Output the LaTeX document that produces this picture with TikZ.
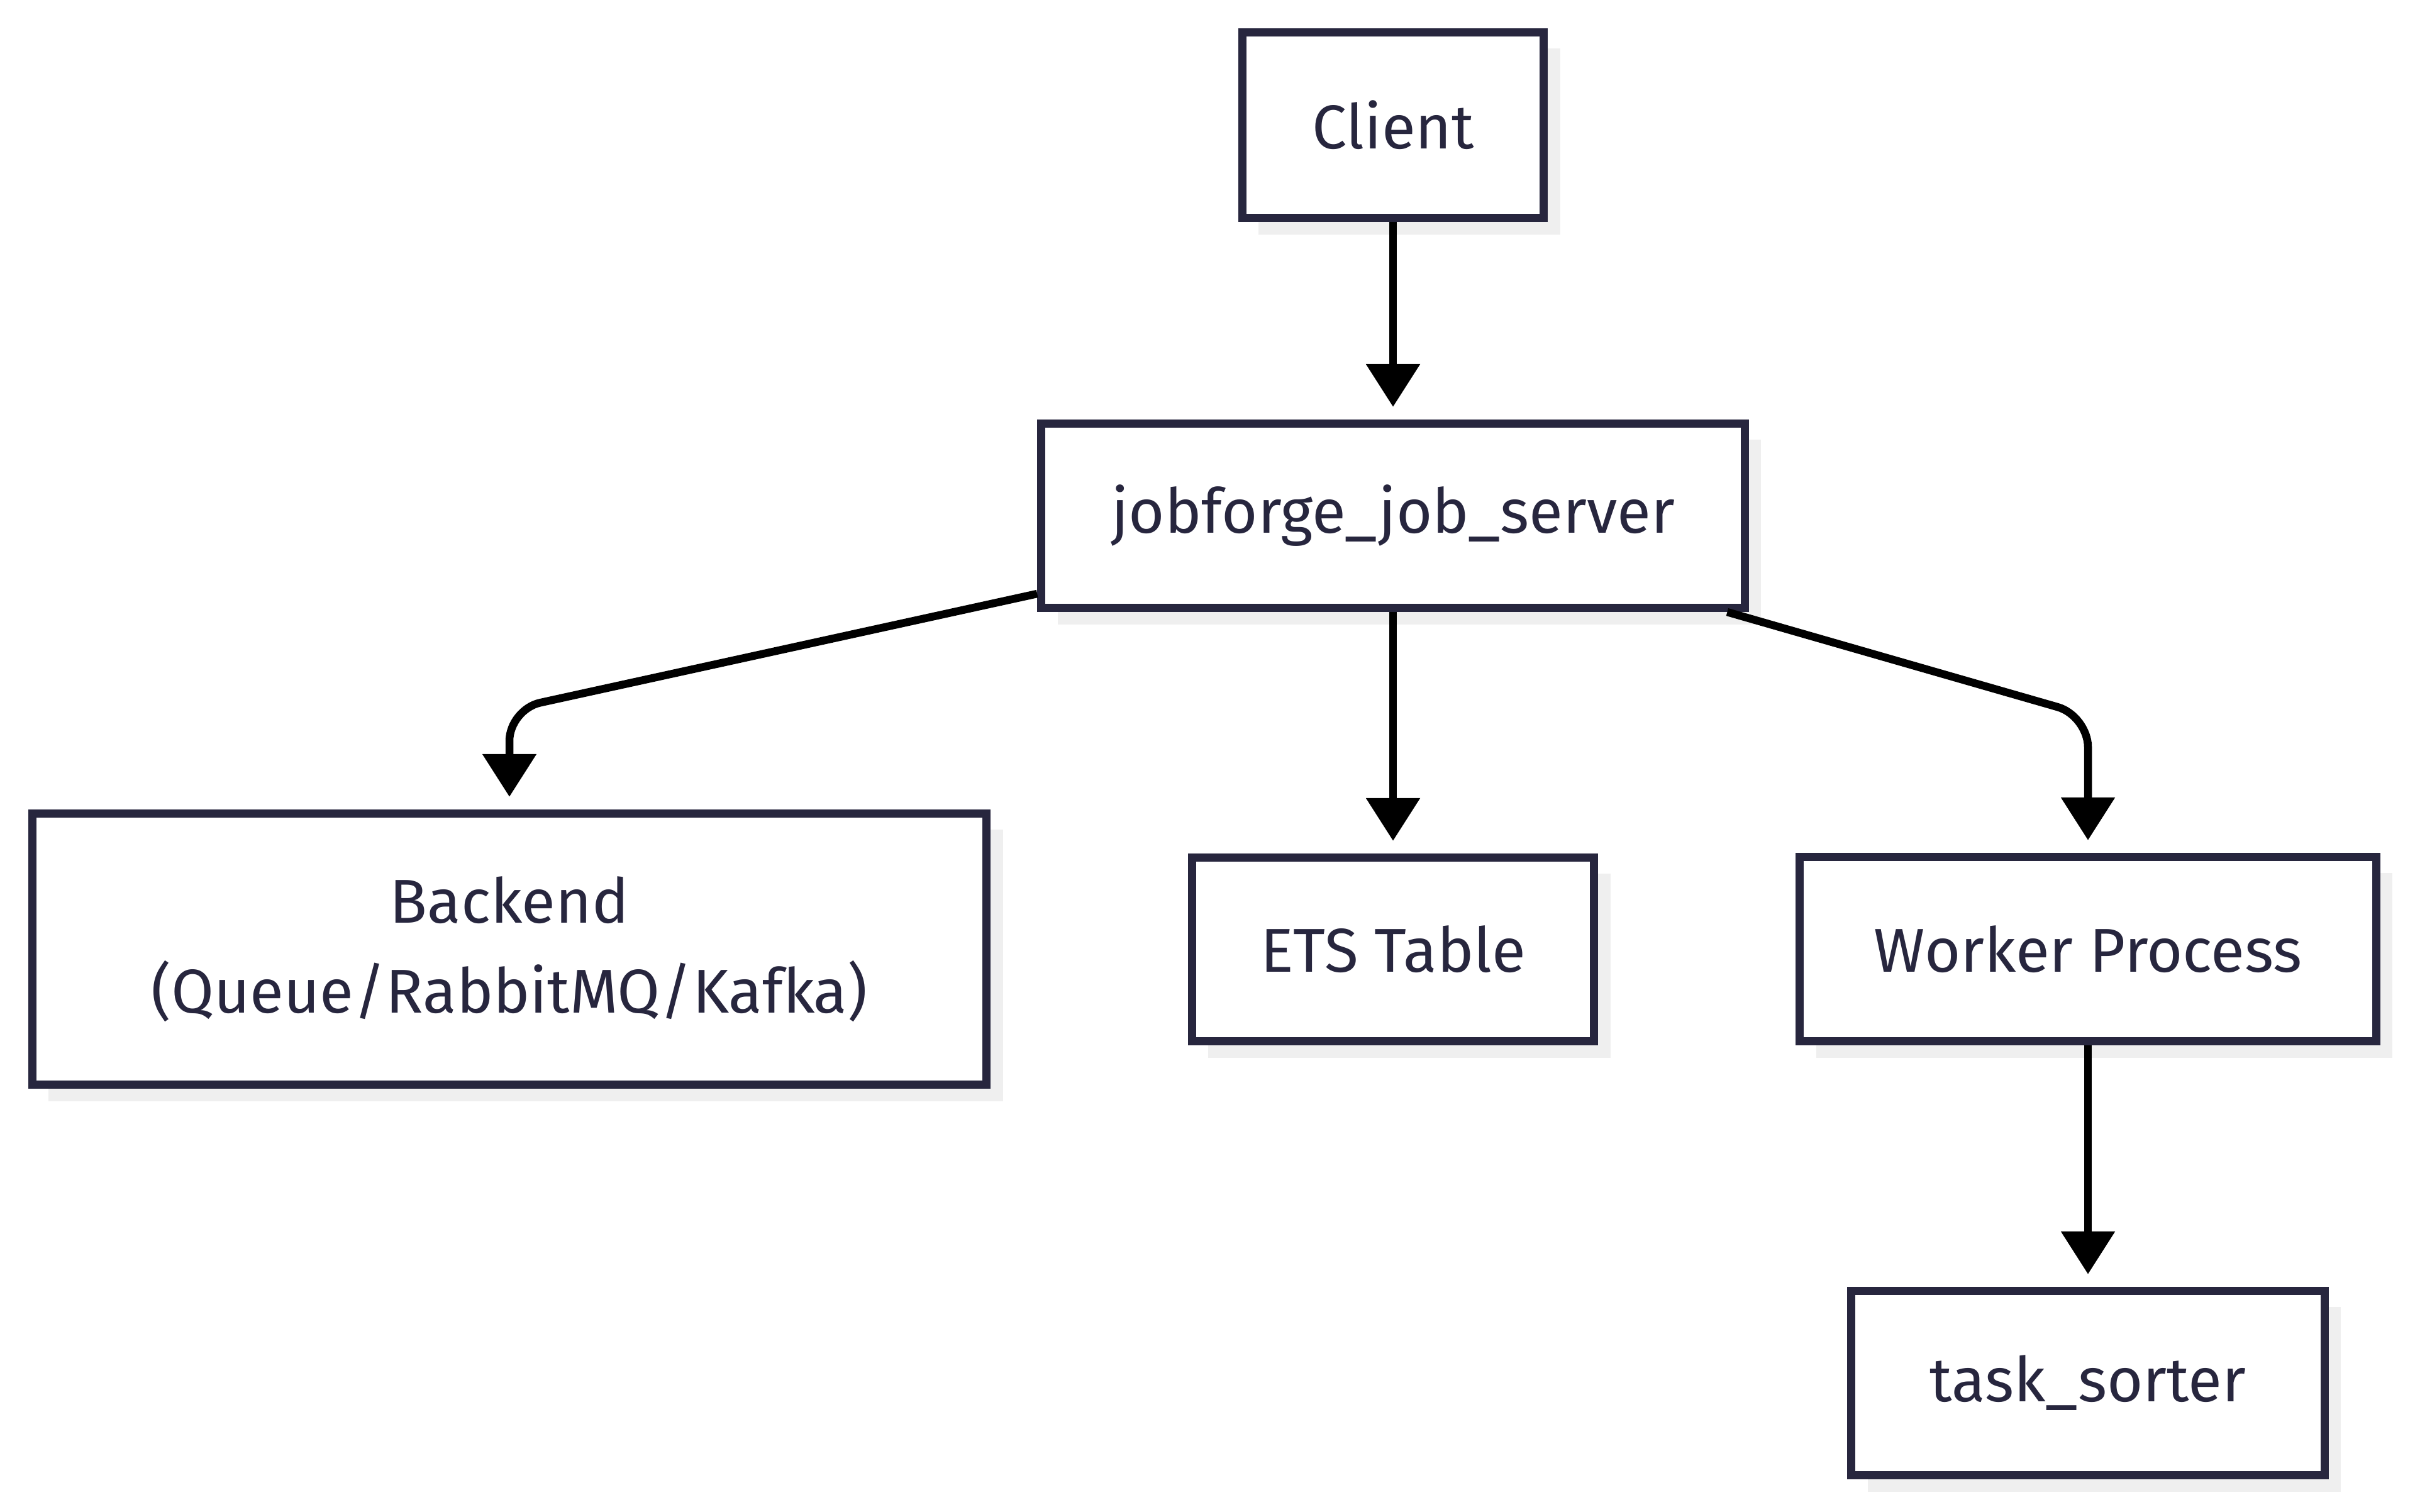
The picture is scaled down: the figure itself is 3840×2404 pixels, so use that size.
\documentclass[tikz,border=0pt]{standalone}
\usepackage{fontspec}
\setmainfont{Fira Sans}
\usetikzlibrary{arrows.meta,shadows,positioning}
\definecolor{boxline}{RGB}{39,38,62}
\definecolor{shadowc}{RGB}{239,239,239}
\tikzset{
  box/.style={draw=boxline, line width=0.13cm, fill=white, text=boxline,
    font=\fontsize{28}{40.5}\selectfont, align=center, inner sep=0pt,
    drop shadow={shadow xshift=0.26cm, shadow yshift=-0.26cm, fill=shadowc, opacity=1}},
  edge/.style={draw=black, line width=0.125cm, rounded corners=0.5cm,
    -{Triangle[length=0.68cm, width=0.83cm]}, shorten >=0.2cm}
}
\begin{document}
\begin{tikzpicture}[x=0.01cm, y=-0.01cm]
\useasboundingbox (0,0) rectangle (3840,2404);
\node[box, minimum width=4.79cm, minimum height=2.95cm] (cli) at (2215,199) {Client};
\node[box, minimum width=11.18cm, minimum height=2.93cm] (srv) at (2215,820) {jobforge\_job\_server};
\node[box, minimum width=15.17cm, minimum height=4.31cm] (bak) at (810,1509) {Backend\\(Queue/RabbitMQ/Kafka)};
\node[box, minimum width=6.39cm, minimum height=2.92cm] (ets) at (2215,1509.5) {ETS Table};
\node[box, minimum width=9.16cm, minimum height=2.93cm] (wrk) at (3320,1509) {Worker Process};
\node[box, minimum width=7.52cm, minimum height=2.93cm] (tsk) at (3320,2199) {task\_sorter};
\coordinate (cL) at (810,1128);
\coordinate (cR) at (3320,1138);
\draw[edge] (cli) -- (srv);
\draw[edge] (srv) -- (cL) -- (bak.north);
\draw[edge] (srv) -- (ets);
\draw[edge] (srv) -- (cR) -- (wrk.north);
\draw[edge] (wrk) -- (tsk);
\end{tikzpicture}
\end{document}
